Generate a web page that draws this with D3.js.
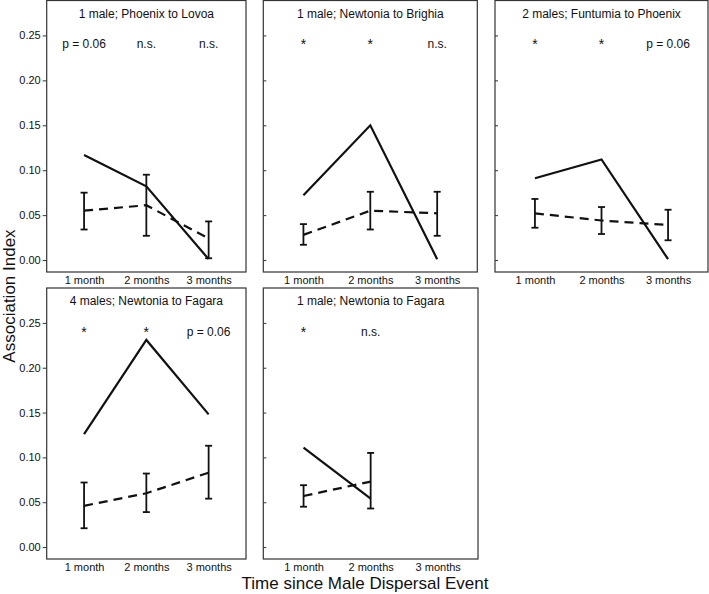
<!DOCTYPE html>
<html>
<head>
<meta charset="utf-8">
<script src="https://cdn.jsdelivr.net/npm/d3@7"></script>
<style>
  body { margin: 0; background: #fff; }
  svg { font-family: "Liberation Sans", Arial, sans-serif; }
</style>
</head>
<body>
<script>
// Data
const months = ["1 month", "2 months", "3 months"];
const yTicks = [0, 0.05, 0.10, 0.15, 0.20, 0.25];

const titles = [
    "1 male; Phoenix to Lovoa",
    "1 male; Newtonia to Brighia",
    "2 males; Funtumia to Phoenix",
    "4 males; Newtonia to Fagara",
    "1 male; Newtonia to Fagara"
];

// observed association index (solid line)
const observed = [
    [0.117, 0.082, 0.001],
    [0.072, 0.150, 0.001],
    [0.091, 0.112, 0.001],
    [0.126, 0.231, 0.148],
    [0.111, 0.054]
];

// expected (dashed line) with error bar limits
const expected = [
    [0.055, 0.061, 0.024],
    [0.028, 0.055, 0.052],
    [0.052, 0.044, 0.039],
    [0.046, 0.060, 0.083],
    [0.057, 0.073]
];
const expectedLow = [
    [0.034, 0.027, 0.002],
    [0.017, 0.034, 0.027],
    [0.036, 0.029, 0.022],
    [0.021, 0.039, 0.054],
    [0.045, 0.043]
];
const expectedHigh = [
    [0.075, 0.095, 0.043],
    [0.040, 0.076, 0.076],
    [0.068, 0.059, 0.056],
    [0.072, 0.082, 0.113],
    [0.069, 0.105]
];

const signif = [
    ["p = 0.06", "n.s.", "n.s."],
    ["*", "*", "n.s."],
    ["*", "*", "p = 0.06"],
    ["*", "*", "p = 0.06"],
    ["*", "n.s."]
];

// Panel layout
const panels = [
    { x0: 46.7, x1: 246, y0: 0.5, y1: 272, labels: true },
    { x0: 263.3, x1: 477.3, y0: 0.5, y1: 272, labels: false },
    { x0: 495, x1: 708, y0: 0.5, y1: 272, labels: false },
    { x0: 46.7, x1: 246, y0: 288, y1: 559, labels: true },
    { x0: 263.3, x1: 478, y0: 288, y1: 559, labels: false }
];

const width = 709, height = 594;
const svg = d3.select("body").append("svg")
    .attr("width", width)
    .attr("height", height);

panels.forEach((p, i) => {
    const x = d3.scalePoint().domain(months).range([p.x0, p.x1]).padding(0.6);
    const y = d3.scaleLinear().domain([-0.0133, 0.2889]).range([p.y1, p.y0]);

    const g = svg.append("g");

    // y axis
    const yAxis = p.labels
        ? d3.axisLeft(y).tickValues(yTicks).tickFormat(d3.format(".2f")).tickSize(4).tickPadding(2)
        : d3.axisLeft(y).tickValues(yTicks).tickFormat("").tickSize(-3);
    g.append("g")
        .attr("transform", `translate(${p.x0},0)`)
        .call(yAxis)
        .call(a => a.select(".domain").remove())
        .call(a => a.selectAll("line").attr("stroke", "#333"))
        .call(a => a.selectAll("text").attr("fill", "#111").style("font-size", "11px"));

    // x axis labels
    g.append("g")
        .attr("transform", `translate(0,${p.y1})`)
        .call(d3.axisBottom(x).tickSize(0).tickPadding(4))
        .call(a => a.select(".domain").remove())
        .call(a => a.selectAll("text").attr("fill", "#111").style("font-size", "11px"));

    // frame
    g.append("rect")
        .attr("x", p.x0).attr("y", p.y0)
        .attr("width", p.x1 - p.x0).attr("height", p.y1 - p.y0)
        .attr("fill", "none")
        .attr("stroke", "#333")
        .attr("stroke-width", 1.2);

    // title
    g.append("text")
        .attr("x", (p.x0 + p.x1) / 2)
        .attr("y", p.y0 + 17)
        .attr("text-anchor", "middle")
        .style("font-size", "12px")
        .attr("fill", "#111")
        .text(titles[i]);

    // significance labels
    g.selectAll(".sig")
        .data(signif[i])
        .enter().append("text")
        .attr("class", "sig")
        .attr("x", (d, j) => x(months[j]))
        .attr("y", d => d === "*" ? y(0.2355) + 1 : y(0.2355))
        .attr("text-anchor", "middle")
        .style("font-size", d => d === "*" ? "14px" : "12px")
        .attr("fill", "#111")
        .text(d => d);

    const line = d3.line()
        .x((d, j) => x(months[j]))
        .y(d => y(d));

    // expected, dashed
    g.append("path")
        .attr("d", line(expected[i]))
        .attr("fill", "none")
        .attr("stroke", "#111")
        .attr("stroke-width", 2.2)
        .attr("stroke-dasharray", "9,6");

    // error bars
    const eb = g.selectAll(".eb")
        .data(expected[i].map((d, j) => ({ j, lo: expectedLow[i][j], hi: expectedHigh[i][j] })))
        .enter().append("g")
        .attr("class", "eb")
        .attr("stroke", "#111")
        .attr("stroke-width", 1.8);
    eb.append("line")
        .attr("x1", d => x(months[d.j])).attr("x2", d => x(months[d.j]))
        .attr("y1", d => y(d.lo)).attr("y2", d => y(d.hi));
    eb.append("line")
        .attr("x1", d => x(months[d.j]) - 3.5).attr("x2", d => x(months[d.j]) + 3.5)
        .attr("y1", d => y(d.lo)).attr("y2", d => y(d.lo));
    eb.append("line")
        .attr("x1", d => x(months[d.j]) - 3.5).attr("x2", d => x(months[d.j]) + 3.5)
        .attr("y1", d => y(d.hi)).attr("y2", d => y(d.hi));

    // observed, solid
    g.append("path")
        .attr("d", line(observed[i]))
        .attr("fill", "none")
        .attr("stroke", "#111")
        .attr("stroke-width", 2.2);
});

// axis titles
svg.append("text")
    .attr("transform", "translate(15,296) rotate(-90)")
    .attr("text-anchor", "middle")
    .style("font-size", "17px")
    .attr("fill", "#111")
    .text("Association Index");

svg.append("text")
    .attr("x", 365)
    .attr("y", 589)
    .attr("text-anchor", "middle")
    .style("font-size", "17px")
    .attr("fill", "#111")
    .text("Time since Male Dispersal Event");
</script>
</body>
</html>
